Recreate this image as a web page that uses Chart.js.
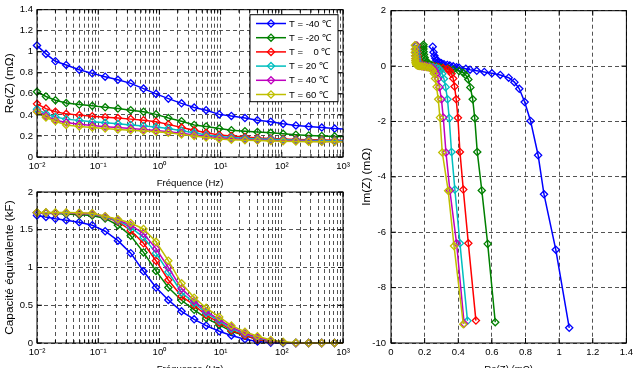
<!DOCTYPE html>
<html>
<head>
<meta charset="utf-8">
<script src="https://cdn.jsdelivr.net/npm/chart.js@4.4.0/dist/chart.umd.min.js"></script>
<style>
  html, body { margin: 0; padding: 0; background: #fff; }
  body { width: 637px; height: 368px; position: relative; overflow: hidden; }
  canvas { position: absolute; }
</style>
</head>
<body>
<canvas id="reChart" style="left:0px;top:0px" width="360" height="189"></canvas>
<canvas id="capChart" style="left:0px;top:180px" width="360" height="195"></canvas>
<canvas id="nyqChart" style="left:360px;top:0px" width="277" height="375"></canvas>
<script>
// frequencies (Hz) of the measured points
const freqs = [0.01, 0.014, 0.02, 0.03, 0.049, 0.08, 0.13, 0.21, 0.34, 0.55, 0.88, 1.4, 2.3, 3.7, 5.8,
  9.5, 15, 25, 40, 66, 105, 170, 275, 450, 730, 1170, 1900, 3000, 4800];

const seriesLabels = ['T = -40 \u2103', 'T = -20 \u2103', 'T =    0 \u2103', 'T = 20 \u2103', 'T = 40 \u2103', 'T = 60 \u2103'];
const seriesColors = ['#0000ff', '#008000', '#ff0000', '#00bfbf', '#bf00bf', '#bfbf00'];

// Re(Z) in mOhm
const reM40 = [1.06, 0.98, 0.91, 0.875, 0.83, 0.795, 0.763, 0.734, 0.70, 0.65, 0.60, 0.555, 0.51, 0.47, 0.445, 0.405, 0.39, 0.37, 0.35, 0.335, 0.315, 0.30, 0.29, 0.28, 0.27, 0.264, 0.258, 0.253, 0.248];
const reM20 = [0.62, 0.575, 0.54, 0.513, 0.498, 0.486, 0.472, 0.46, 0.445, 0.43, 0.405, 0.37, 0.34, 0.305, 0.29, 0.27, 0.255, 0.245, 0.238, 0.23, 0.22, 0.212, 0.205, 0.20, 0.196, 0.194, 0.193, 0.193, 0.193];
const re0 = [0.505, 0.46, 0.43, 0.41, 0.398, 0.388, 0.378, 0.37, 0.36, 0.35, 0.335, 0.31, 0.28, 0.255, 0.23, 0.21, 0.20, 0.19, 0.18, 0.175, 0.17, 0.167, 0.165, 0.163, 0.16, 0.158, 0.156, 0.155, 0.154];
const re20 = [0.455, 0.41, 0.38, 0.36, 0.346, 0.336, 0.325, 0.315, 0.305, 0.295, 0.285, 0.27, 0.25, 0.23, 0.21, 0.195, 0.185, 0.178, 0.172, 0.168, 0.164, 0.16, 0.158, 0.156, 0.155, 0.153, 0.152, 0.151, 0.15];
const re40 = [0.435, 0.39, 0.35, 0.327, 0.311, 0.30, 0.288, 0.28, 0.27, 0.262, 0.252, 0.24, 0.225, 0.21, 0.195, 0.182, 0.173, 0.167, 0.162, 0.158, 0.155, 0.152, 0.15, 0.148, 0.147, 0.146, 0.145, 0.145, 0.145];
const re60 = [0.43, 0.375, 0.34, 0.305, 0.291, 0.281, 0.271, 0.262, 0.255, 0.248, 0.24, 0.23, 0.215, 0.20, 0.185, 0.172, 0.165, 0.16, 0.156, 0.152, 0.15, 0.148, 0.146, 0.145, 0.144, 0.143, 0.142, 0.142, 0.142];

// Im(Z) in mOhm
const imM40 = [-9.45, -6.63, -4.63, -3.22, -1.98, -1.30, -0.82, -0.58, -0.42, -0.32, -0.26, -0.21, -0.17, -0.13, -0.10, -0.06, -0.04, -0.01, 0.02, 0.04, 0.07, 0.10, 0.13, 0.16, 0.21, 0.28, 0.37, 0.50, 0.70];
const imM20 = [-9.25, -6.42, -4.49, -3.10, -1.88, -1.20, -0.77, -0.48, -0.33, -0.24, -0.18, -0.13, -0.09, -0.06, -0.04, -0.02, 0.0, 0.02, 0.04, 0.07, 0.10, 0.15, 0.22, 0.31, 0.42, 0.52, 0.62, 0.70, 0.77];
const im0 = [-9.19, -6.40, -4.46, -3.10, -1.87, -1.20, -0.74, -0.45, -0.28, -0.17, -0.11, -0.07, -0.04, -0.02, -0.01, 0.0, 0.01, 0.02, 0.03, 0.05, 0.07, 0.10, 0.14, 0.20, 0.28, 0.38, 0.50, 0.62, 0.74];
const im20 = [-9.20, -6.40, -4.46, -3.10, -1.88, -1.20, -0.76, -0.46, -0.28, -0.17, -0.10, -0.06, -0.04, -0.02, -0.01, 0.0, 0.01, 0.02, 0.03, 0.04, 0.06, 0.09, 0.13, 0.19, 0.27, 0.37, 0.49, 0.61, 0.73];
const im40 = [-9.30, -6.40, -4.49, -3.12, -1.86, -1.20, -0.76, -0.46, -0.28, -0.17, -0.10, -0.06, -0.04, -0.02, -0.01, 0.0, 0.01, 0.02, 0.03, 0.04, 0.06, 0.09, 0.13, 0.19, 0.27, 0.37, 0.49, 0.61, 0.74];
const im60 = [-9.32, -6.50, -4.50, -3.12, -1.86, -1.20, -0.75, -0.45, -0.27, -0.16, -0.10, -0.06, -0.04, -0.02, -0.01, 0.0, 0.01, 0.02, 0.03, 0.04, 0.06, 0.09, 0.13, 0.19, 0.27, 0.37, 0.49, 0.61, 0.75];

// equivalent capacitance in kF
const capM40 = [1.69, 1.67, 1.645, 1.625, 1.60, 1.56, 1.48, 1.355, 1.19, 0.95, 0.735, 0.57, 0.42, 0.314, 0.23, 0.155, 0.10, 0.05, 0.02, 0.005, 0, 0, 0, 0, 0, 0, 0, 0, 0];
const capM20 = [1.725, 1.72, 1.715, 1.71, 1.70, 1.69, 1.65, 1.56, 1.42, 1.20, 0.955, 0.735, 0.566, 0.44, 0.33, 0.24, 0.155, 0.095, 0.05, 0.02, 0.005, 0, 0, 0, 0, 0, 0, 0, 0];
const cap0 = [1.725, 1.725, 1.72, 1.72, 1.715, 1.705, 1.665, 1.61, 1.49, 1.32, 1.09, 0.835, 0.62, 0.50, 0.37, 0.27, 0.17, 0.10, 0.05, 0.02, 0.006, 0, 0, 0, 0, 0, 0, 0, 0];
const cap20 = [1.725, 1.725, 1.725, 1.72, 1.72, 1.71, 1.67, 1.62, 1.53, 1.40, 1.19, 0.94, 0.67, 0.53, 0.40, 0.29, 0.19, 0.12, 0.065, 0.025, 0.008, 0, 0, 0, 0, 0, 0, 0, 0];
const cap40 = [1.725, 1.725, 1.725, 1.725, 1.72, 1.715, 1.675, 1.63, 1.56, 1.45, 1.25, 1.00, 0.72, 0.56, 0.42, 0.31, 0.21, 0.13, 0.075, 0.03, 0.01, 0, 0, 0, 0, 0, 0, 0, 0];
const cap60 = [1.73, 1.73, 1.73, 1.73, 1.725, 1.72, 1.68, 1.64, 1.59, 1.51, 1.34, 1.09, 0.79, 0.60, 0.465, 0.345, 0.23, 0.15, 0.09, 0.04, 0.015, 0.003, 0, 0, 0, 0, 0, 0, 0];

const reSeries = [reM40, reM20, re0, re20, re40, re60];
const imSeries = [imM40, imM20, im0, im20, im40, im60];
const capSeries = [capM40, capM20, cap0, cap20, cap40, cap60];

const decadeValues = [0.01, 0.1, 1, 10, 100, 1000];
const decadeLabels = ['10\u207B\u00B2', '10\u207B\u00B9', '10\u2070', '10\u00B9', '10\u00B2', '10\u00B3'];

Chart.defaults.font.family = '"Liberation Sans", Arial, sans-serif';
Chart.defaults.font.size = 9.5;
Chart.defaults.color = '#000';

function makeDataset(i, xs, ys, clipRight) {
  return {
    label: seriesLabels[i],
    data: xs.map((x, k) => ({ x: x, y: ys[k] })),
    showLine: true,
    borderColor: seriesColors[i],
    borderWidth: 1.5,
    pointStyle: 'rectRot',
    pointRadius: 3.6,
    pointBorderWidth: 1.3,
    pointBorderColor: seriesColors[i],
    pointBackgroundColor: 'rgba(0,0,0,0)',
    order: 5 - i,
    clip: clipRight ? { left: 8, top: 8, bottom: 8, right: 0 } : false
  };
}

// matlab-like box with inward ticks
const framePlugin = {
  id: 'frame',
  afterDatasetsDraw(chart) {
    const { ctx, chartArea: a, scales } = chart;
    ctx.save();
    ctx.strokeStyle = '#000';
    ctx.lineWidth = 1;
    ctx.beginPath();
    scales.x.ticks.forEach(t => {
      const px = scales.x.getPixelForValue(t.value);
      const len = scales.x.type === 'logarithmic' && !decadeValues.includes(t.value) ? 3 : 5;
      ctx.moveTo(px, a.bottom); ctx.lineTo(px, a.bottom - len);
      ctx.moveTo(px, a.top); ctx.lineTo(px, a.top + len);
    });
    scales.y.ticks.forEach(t => {
      const py = scales.y.getPixelForValue(t.value);
      ctx.moveTo(a.left, py); ctx.lineTo(a.left + 5, py);
      ctx.moveTo(a.right, py); ctx.lineTo(a.right - 5, py);
    });
    ctx.stroke();
    ctx.strokeRect(a.left, a.top, a.width, a.height);
    ctx.restore();
  }
};

// legend box inside the upper-right corner of the Re(Z) plot
const boxLegendPlugin = {
  id: 'boxLegend',
  afterDraw(chart) {
    const { ctx, chartArea: a } = chart;
    const w = 88, h = 87, rowH = 14.2;
    const x0 = a.right - w - 5, y0 = a.top + 5;
    ctx.save();
    ctx.fillStyle = '#fff';
    ctx.fillRect(x0, y0, w, h);
    ctx.strokeStyle = '#000';
    ctx.lineWidth = 1;
    ctx.strokeRect(x0, y0, w, h);
    ctx.font = '9.5px "Liberation Sans", Arial, sans-serif';
    ctx.textBaseline = 'middle';
    chart.data.datasets.forEach((ds, i) => {
      const y = y0 + 8.8 + i * rowH;
      ctx.strokeStyle = ds.borderColor;
      ctx.lineWidth = 1.5;
      ctx.beginPath();
      ctx.moveTo(x0 + 6, y); ctx.lineTo(x0 + 36, y);
      ctx.stroke();
      const cx = x0 + 21, r = 3.6;
      ctx.fillStyle = '#fff';
      ctx.beginPath();
      ctx.moveTo(cx, y - r); ctx.lineTo(cx + r, y); ctx.lineTo(cx, y + r); ctx.lineTo(cx - r, y);
      ctx.closePath();
      ctx.lineWidth = 1.3;
      ctx.stroke();
      ctx.fillStyle = '#000';
      ctx.fillText(ds.label, x0 + 39, y + 0.5);
    });
    ctx.restore();
  }
};

const gridStyle = { color: 'rgba(0,0,0,0.85)', lineWidth: 0.8, drawTicks: false };
const dashStyle = { display: false, dash: [4, 3] };

function logFreqAxis() {
  return {
    type: 'logarithmic',
    min: 0.01,
    max: 1000,
    grid: gridStyle,
    border: dashStyle,
    afterBuildTicks(scale) {
      const ticks = [];
      decadeValues.forEach(d => {
        if (d === 1000) { ticks.push({ value: d }); return; }
        for (let m = 1; m <= 9; m++) ticks.push({ value: m === 1 ? d : +(m * d).toPrecision(3) });
      });
      scale.ticks = ticks;
    },
    afterFit(scale) { scale.height = 32; },
    ticks: {
      autoSkip: false,
      maxRotation: 0,
      padding: 4,
      callback: (v) => {
        const k = decadeValues.indexOf(v);
        return k >= 0 ? decadeLabels[k] : '';
      }
    },
    title: { display: true, text: 'Fréquence (Hz)', font: { size: 9.6 }, padding: 0 }
  };
}

function linAxis(min, max, step, title, width, titlePad, tickPad) {
  return {
    type: 'linear',
    min: min,
    max: max,
    grid: gridStyle,
    border: dashStyle,
    afterFit(scale) { scale.width = width; },
    ticks: {
      stepSize: step,
      padding: tickPad,
      callback: (v) => String(+v.toFixed(1))
    },
    title: { display: true, text: title, font: { size: 11.8 }, padding: { top: titlePad, bottom: 0 } }
  };
}

const baseOptions = {
  responsive: false,
  animation: false,
  events: [],
  plugins: { legend: { display: false }, tooltip: { enabled: false } }
};

new Chart(document.getElementById('reChart'), {
  type: 'scatter',
  data: { datasets: reSeries.map((ys, i) => makeDataset(i, freqs, ys, true)) },
  options: Object.assign({}, baseOptions, {
    layout: { padding: { left: 0, right: 17, top: 7, bottom: 0 } },
    scales: {
      x: logFreqAxis(),
      y: linAxis(0, 1.4, 0.2, 'Re(Z) (m\u03A9)', 37, 3, 4)
    }
  }),
  plugins: [framePlugin, boxLegendPlugin]
});

new Chart(document.getElementById('capChart'), {
  type: 'scatter',
  data: { datasets: capSeries.map((ys, i) => makeDataset(i, freqs, ys, true)) },
  options: Object.assign({}, baseOptions, {
    layout: { padding: { left: 0, right: 17, top: 12, bottom: 0 } },
    scales: {
      x: logFreqAxis(),
      y: linAxis(0, 2, 0.5, 'Capacité équivalente (kF)', 37, 3, 4)
    }
  }),
  plugins: [framePlugin]
});

const nyqX = linAxis(0, 1.4, 0.2, 'Re(Z) (m\u03A9)', 0, 0, 4);
nyqX.afterFit = (scale) => { scale.height = 32; };
nyqX.title = { display: true, text: 'Re(Z) (m\u03A9)', font: { size: 9.6 }, padding: 0 };

new Chart(document.getElementById('nyqChart'), {
  type: 'scatter',
  data: { datasets: reSeries.map((xs, i) => makeDataset(i, xs, imSeries[i], false)) },
  options: Object.assign({}, baseOptions, {
    layout: { padding: { left: 0, right: 9, top: 7, bottom: 0 } },
    scales: {
      x: nyqX,
      y: linAxis(-10, 2, 2, 'Im(Z) (m\u03A9)', 31, 0, 5)
    }
  }),
  plugins: [framePlugin]
});
</script>
</body>
</html>
